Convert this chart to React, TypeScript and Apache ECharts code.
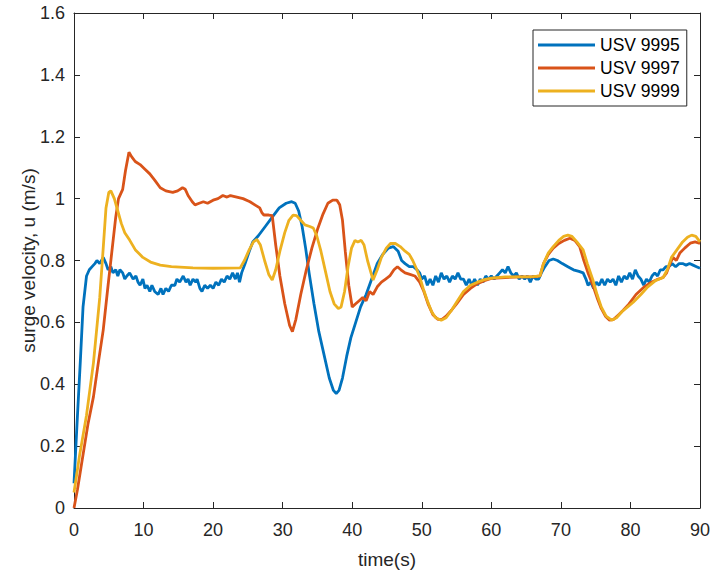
import React, { useEffect, useRef } from "react";
import * as echarts from "echarts";

const seriesNames = ["USV 9995", "USV 9997", "USV 9999"];
const seriesColors = ["#0072BD", "#D95319", "#EDB120"];

const usv9995: [number, number][] = [
  [0, 0.08], [0.5, 0.3], [0.9, 0.47], [1.3, 0.65], [1.8, 0.75], [2.2, 0.77], [2.6, 0.78], [3.0, 0.79], [3.3, 0.8], [3.7, 0.79], [4.2, 0.81], [4.6, 0.79], [4.9, 0.77], [5.3, 0.78], [5.6, 0.76], [6.0, 0.77], [6.3, 0.75], [6.6, 0.77], [7.0, 0.76], [7.3, 0.74], [7.6, 0.75], [8.0, 0.76], [8.5, 0.74], [8.9, 0.75], [9.2, 0.73], [9.5, 0.72], [9.9, 0.74], [10.2, 0.71], [10.5, 0.72], [10.9, 0.7], [11.2, 0.72], [11.6, 0.7], [12.1, 0.69], [12.5, 0.71], [12.8, 0.69], [13.2, 0.71], [13.6, 0.7], [14.0, 0.72], [14.5, 0.72], [14.8, 0.74], [15.2, 0.73], [15.7, 0.75], [16.1, 0.73], [16.4, 0.74], [16.7, 0.72], [17.1, 0.74], [17.5, 0.73], [17.7, 0.74], [18.1, 0.71], [18.4, 0.7], [18.8, 0.72], [19.2, 0.71], [19.6, 0.72], [20.0, 0.71], [20.4, 0.73], [20.8, 0.72], [21.2, 0.74], [21.6, 0.73], [22.0, 0.75], [22.4, 0.74], [22.8, 0.76], [23.2, 0.74], [23.5, 0.76], [23.8, 0.73], [24.1, 0.76], [24.6, 0.79], [25.2, 0.83], [25.7, 0.86], [26.5, 0.88], [27.5, 0.91], [28.5, 0.94], [29.5, 0.97], [30.5, 0.985], [31.3, 0.99], [31.8, 0.985], [32.3, 0.96], [32.8, 0.91], [33.3, 0.84], [33.8, 0.76], [34.5, 0.66], [35.2, 0.57], [36.0, 0.49], [36.7, 0.42], [37.3, 0.38], [37.7, 0.37], [38.1, 0.38], [38.6, 0.42], [39.2, 0.49], [39.8, 0.55], [40.5, 0.6], [41.2, 0.65], [42.0, 0.69], [42.8, 0.74], [43.6, 0.79], [44.4, 0.82], [45.2, 0.84], [45.9, 0.845], [46.6, 0.83], [47.1, 0.8], [47.6, 0.79], [48.2, 0.78], [48.8, 0.78], [49.3, 0.77], [49.7, 0.76], [50.0, 0.74], [50.4, 0.75], [50.8, 0.72], [51.2, 0.74], [51.6, 0.72], [52.0, 0.75], [52.4, 0.73], [52.8, 0.76], [53.2, 0.74], [53.6, 0.75], [54.0, 0.73], [54.4, 0.75], [54.8, 0.74], [55.2, 0.76], [55.6, 0.74], [56.0, 0.74], [56.4, 0.72], [56.8, 0.74], [57.2, 0.72], [57.6, 0.74], [58.0, 0.72], [58.4, 0.74], [58.8, 0.73], [59.2, 0.75], [59.6, 0.74], [60.0, 0.75], [60.4, 0.74], [60.8, 0.75], [61.2, 0.76], [61.6, 0.77], [62.0, 0.76], [62.4, 0.78], [62.8, 0.76], [63.2, 0.75], [63.6, 0.76], [64.0, 0.74], [64.4, 0.75], [64.8, 0.74], [65.2, 0.75], [65.6, 0.73], [66.0, 0.75], [66.4, 0.74], [66.8, 0.74], [67.2, 0.76], [67.7, 0.78], [68.3, 0.8], [68.9, 0.805], [69.5, 0.8], [70.2, 0.79], [71.0, 0.78], [71.8, 0.77], [72.6, 0.765], [73.2, 0.76], [73.6, 0.74], [73.9, 0.72], [74.3, 0.73], [74.7, 0.71], [75.1, 0.73], [75.5, 0.72], [75.9, 0.74], [76.3, 0.72], [76.7, 0.74], [77.1, 0.73], [77.5, 0.74], [77.9, 0.72], [78.3, 0.75], [78.7, 0.73], [79.1, 0.75], [79.5, 0.74], [79.9, 0.76], [80.3, 0.74], [80.7, 0.77], [81.1, 0.75], [81.5, 0.74], [81.9, 0.72], [82.3, 0.74], [82.7, 0.73], [83.1, 0.75], [83.5, 0.76], [83.9, 0.75], [84.3, 0.77], [84.7, 0.77], [85.1, 0.78], [85.5, 0.78], [86.0, 0.79], [86.5, 0.78], [87.0, 0.79], [87.5, 0.79], [88.0, 0.785], [88.5, 0.79], [89.0, 0.785], [89.5, 0.78], [90, 0.775],
];

const usv9997: [number, number][] = [
  [0, 0], [0.5, 0.06], [1.0, 0.13], [1.5, 0.2], [2.0, 0.27], [2.8, 0.36], [3.5, 0.47], [4.2, 0.575], [4.9, 0.72], [5.6, 0.86], [6.0, 0.94], [6.4, 1.0], [7.0, 1.03], [7.4, 1.09], [7.9, 1.15], [8.3, 1.135], [8.8, 1.12], [9.5, 1.11], [10.2, 1.095], [10.9, 1.08], [11.6, 1.06], [12.4, 1.035], [13.2, 1.025], [14.2, 1.02], [14.9, 1.025], [15.6, 1.035], [16.0, 1.03], [16.4, 1.01], [17.0, 0.99], [17.4, 0.98], [18.0, 0.985], [18.6, 0.99], [19.2, 0.985], [20.0, 0.995], [20.7, 1.0], [21.4, 1.01], [22.0, 1.005], [22.5, 1.01], [23.4, 1.005], [24.3, 1.0], [25.3, 0.99], [26.0, 0.98], [26.7, 0.97], [27.0, 0.955], [27.3, 0.947], [28.0, 0.947], [28.5, 0.945], [29.0, 0.85], [29.6, 0.75], [30.3, 0.66], [31.0, 0.59], [31.4, 0.57], [31.9, 0.61], [32.6, 0.69], [33.4, 0.77], [34.2, 0.84], [35.0, 0.9], [35.8, 0.95], [36.5, 0.985], [37.2, 0.995], [37.8, 0.995], [38.2, 0.98], [38.6, 0.93], [39.0, 0.83], [39.5, 0.72], [40.0, 0.65], [40.5, 0.66], [41.0, 0.67], [41.5, 0.68], [42.0, 0.67], [42.5, 0.7], [43.0, 0.69], [43.6, 0.715], [44.2, 0.73], [44.8, 0.74], [45.4, 0.75], [46.0, 0.77], [46.5, 0.78], [47.0, 0.77], [47.6, 0.76], [48.3, 0.755], [49.0, 0.75], [49.7, 0.73], [50.3, 0.7], [50.9, 0.66], [51.6, 0.625], [52.3, 0.61], [52.9, 0.61], [53.5, 0.62], [54.3, 0.64], [55.0, 0.66], [56.0, 0.69], [57.0, 0.71], [58.0, 0.725], [59.0, 0.735], [60.0, 0.742], [62.0, 0.745], [64.0, 0.747], [66.0, 0.747], [67.0, 0.75], [67.5, 0.79], [68.2, 0.82], [68.9, 0.84], [69.7, 0.855], [70.5, 0.865], [71.3, 0.872], [72.0, 0.865], [72.7, 0.845], [73.3, 0.8], [73.9, 0.76], [74.6, 0.72], [75.2, 0.68], [75.8, 0.645], [76.4, 0.62], [77.0, 0.607], [77.6, 0.61], [78.3, 0.625], [79.0, 0.64], [79.8, 0.66], [80.8, 0.69], [82.0, 0.715], [83.0, 0.73], [84.0, 0.74], [84.7, 0.745], [85.2, 0.76], [85.7, 0.79], [86.1, 0.81], [86.6, 0.8], [87.1, 0.824], [87.8, 0.84], [88.6, 0.856], [89.3, 0.86], [90, 0.855],
];

const usv9999: [number, number][] = [
  [0, 0.05], [0.8, 0.17], [1.8, 0.3], [2.8, 0.47], [3.7, 0.68], [4.2, 0.84], [4.6, 0.97], [5.0, 1.02], [5.3, 1.025], [5.8, 1.0], [6.3, 0.96], [6.8, 0.92], [7.3, 0.89], [8.0, 0.866], [8.8, 0.835], [9.9, 0.81], [11.0, 0.795], [12.4, 0.785], [14.0, 0.78], [17.1, 0.776], [20.0, 0.775], [23.9, 0.776], [24.5, 0.8], [25.2, 0.835], [25.8, 0.86], [26.3, 0.868], [26.8, 0.85], [27.4, 0.8], [28.0, 0.755], [28.5, 0.737], [29.0, 0.77], [29.6, 0.83], [30.3, 0.89], [30.9, 0.93], [31.5, 0.947], [32.0, 0.945], [32.6, 0.93], [33.2, 0.915], [33.9, 0.91], [34.4, 0.905], [34.9, 0.88], [35.5, 0.83], [36.2, 0.76], [36.8, 0.7], [37.4, 0.66], [38.0, 0.645], [38.4, 0.65], [38.9, 0.7], [39.4, 0.78], [39.9, 0.84], [40.4, 0.865], [40.8, 0.86], [41.3, 0.865], [41.7, 0.85], [42.2, 0.8], [42.7, 0.76], [43.0, 0.737], [43.6, 0.77], [44.2, 0.81], [44.9, 0.84], [45.5, 0.855], [46.2, 0.855], [46.9, 0.845], [47.6, 0.83], [48.2, 0.82], [48.7, 0.8], [49.3, 0.77], [49.8, 0.74], [50.2, 0.71], [50.8, 0.67], [51.4, 0.635], [52.0, 0.615], [52.8, 0.607], [53.5, 0.615], [54.3, 0.64], [55.0, 0.665], [56.0, 0.7], [57.0, 0.72], [58.0, 0.73], [59.0, 0.738], [60.0, 0.743], [62.0, 0.747], [64.0, 0.747], [66.0, 0.748], [67.0, 0.75], [67.5, 0.79], [68.2, 0.825], [68.9, 0.845], [69.7, 0.865], [70.4, 0.878], [71.0, 0.882], [71.6, 0.878], [72.3, 0.86], [73.2, 0.834], [73.8, 0.79], [74.6, 0.737], [75.2, 0.69], [75.8, 0.65], [76.5, 0.62], [77.3, 0.607], [78.0, 0.615], [78.8, 0.635], [79.6, 0.65], [80.4, 0.665], [81.5, 0.69], [82.5, 0.715], [83.6, 0.735], [84.7, 0.745], [85.3, 0.77], [85.9, 0.81], [86.7, 0.835], [87.5, 0.86], [88.2, 0.875], [88.8, 0.882], [89.4, 0.878], [90, 0.86],
];

const xTitle = "time(s)";
const yTitle = "surge velocity, u (m/s)";
const xMin = 0, xMax = 90, xStep = 10;
const yMin = 0, yMax = 1.6, yStep = 0.2;

const FONT = "'Liberation Sans', Arial, Helvetica, sans-serif";
const AXIS_COLOR = "#262626";

export default function App() {
  const ref = useRef<HTMLDivElement>(null);
  useEffect(() => {
    if (!ref.current) return;
    const chart = echarts.init(ref.current, undefined, { renderer: "svg" });
    const data = [usv9995, usv9997, usv9999];
    const baseX = {
      type: "value" as const,
      min: xMin,
      max: xMax,
      interval: xStep,
      splitLine: { show: false },
      axisLine: { show: true, onZero: false, lineStyle: { color: AXIS_COLOR, width: 1 } },
      axisTick: { show: true, inside: true, length: 6, lineStyle: { color: AXIS_COLOR } },
    };
    const baseY = {
      type: "value" as const,
      min: yMin,
      max: yMax,
      interval: yStep,
      splitLine: { show: false },
      axisLine: { show: true, onZero: false, lineStyle: { color: AXIS_COLOR, width: 1 } },
      axisTick: { show: true, inside: true, length: 6, lineStyle: { color: AXIS_COLOR } },
    };
    chart.setOption({
      animation: false,
      backgroundColor: "#ffffff",
      textStyle: { fontFamily: FONT },
      grid: { left: 74, top: 13, width: 626, height: 495, containLabel: false, outerBoundsMode: "none" },
      legend: {
        show: true,
        orient: "vertical",
        left: 533,
        top: 30,
        data: seriesNames,
        icon: "rect",
        itemWidth: 57,
        itemHeight: 3,
        itemGap: 5,
        padding: [6, 7, 6, 5],
        borderColor: AXIS_COLOR,
        borderWidth: 1,
        backgroundColor: "#ffffff",
        textStyle: { fontFamily: FONT, fontSize: 17.5, color: "#000000", padding: [0, 0, 0, 0] },
      },
      xAxis: [
        {
          ...baseX,
          position: "bottom",
          name: xTitle,
          nameLocation: "middle",
          nameMoveOverlap: false,
          nameGap: 42,
          nameTextStyle: { fontFamily: FONT, fontSize: 19, color: AXIS_COLOR },
          axisLabel: { show: true, margin: 13, fontFamily: FONT, fontSize: 18, color: AXIS_COLOR },
        },
        {
          ...baseX,
          position: "top",
          axisLabel: { show: false },
        },
      ],
      yAxis: [
        {
          ...baseY,
          position: "left",
          name: yTitle,
          nameLocation: "middle",
          nameMoveOverlap: false,
          nameGap: 36,
          nameTextStyle: { fontFamily: FONT, fontSize: 19, color: AXIS_COLOR },
          axisLabel: { show: true, margin: 9, fontFamily: FONT, fontSize: 18, color: AXIS_COLOR },
        },
        {
          ...baseY,
          position: "right",
          axisLabel: { show: false },
        },
      ],
      series: seriesNames.map((name, i) => ({
        name,
        type: "line",
        xAxisIndex: 0,
        yAxisIndex: 0,
        data: data[i],
        showSymbol: false,
        symbol: "none",
        smooth: false,
        lineStyle: { color: seriesColors[i], width: 2.8 },
        itemStyle: { color: seriesColors[i] },
        z: 2 + i,
      })),
    });
    return () => chart.dispose();
  }, []);
  return (
    <div
      ref={ref}
      style={{ position: "fixed", left: 0, top: 0, width: 712, height: 571, background: "#fff" }}
    />
  );
}
